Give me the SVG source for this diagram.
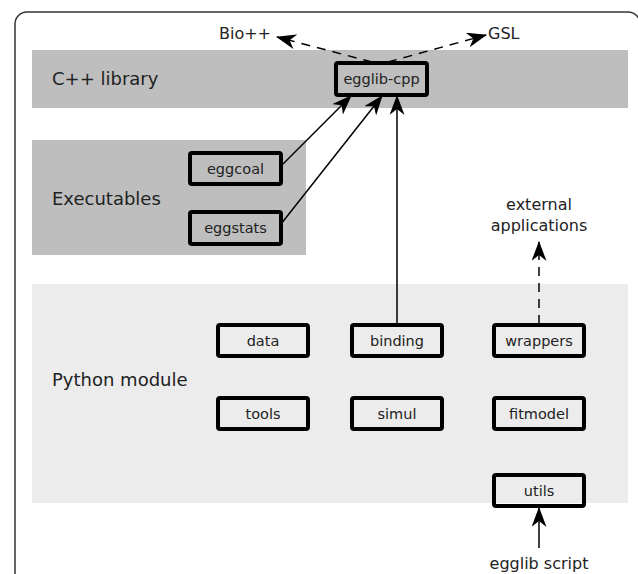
<svg xmlns="http://www.w3.org/2000/svg" width="638" height="574" viewBox="0 0 638 574">
<defs>
<marker id="ah" viewBox="0 0 20 15" refX="19" refY="7.5" markerWidth="20" markerHeight="15" markerUnits="userSpaceOnUse" orient="auto">
<path d="M0,0 L20,7.5 L0,15 L6,7.5 z" fill="#000"/>
</marker>
<style>
.band1{fill:#bebebe}
.band2{fill:#ececec}
.lbl{font-family:"DejaVu Sans",sans-serif;font-size:18px;fill:#222}
.ext{font-family:"DejaVu Sans",sans-serif;font-size:16px;fill:#222}
.box rect{fill:none;stroke:#000;stroke-width:4}
.box text{font-family:"DejaVu Sans",sans-serif;font-size:14.5px;fill:#222;text-anchor:middle}
.c{stroke:#000;stroke-width:1.5;fill:none;marker-end:url(#ah)}
.d{stroke-dasharray:9,7}
</style>
</defs>
<rect width="638" height="574" fill="#fff"/>
<rect x="15" y="12" width="625" height="620" rx="12" fill="#fff" stroke="#333" stroke-width="1.5"/>
<rect class="band1" x="32" y="50" width="596" height="58"/>
<rect class="band1" x="32" y="140" width="274" height="115"/>
<rect class="band2" x="32" y="284" width="596" height="219"/>
<text class="lbl" x="52" y="85">C++ library</text>
<text class="lbl" x="52" y="205">Executables</text>
<text class="lbl" x="52" y="386">Python module</text>
<text class="ext" x="219" y="39">Bio++</text>
<text class="ext" x="488" y="39">GSL</text>
<text class="ext" x="539" y="210" text-anchor="middle">external</text>
<text class="ext" x="539" y="231" text-anchor="middle">applications</text>
<text class="ext" x="539" y="569" text-anchor="middle">egglib script</text>
<g id="connectors">
<line class="c d" x1="372" y1="62" x2="277" y2="37"/>
<line class="c d" x1="388" y1="62" x2="486" y2="35"/>
<line class="c" x1="281" y1="166" x2="351" y2="96"/>
<line class="c" x1="281" y1="224" x2="382" y2="96"/>
<line class="c" x1="397" y1="324" x2="397" y2="96"/>
<line class="c d" x1="539" y1="324" x2="539" y2="242"/>
<line class="c" x1="539" y1="548" x2="539" y2="508"/>
</g>
<g id="egglib-cpp" class="box"><rect x="336" y="63" width="91" height="32" rx="2"/><text x="381.5" y="84">egglib-cpp</text></g>
<g id="eggcoal" class="box"><rect x="190" y="153" width="91" height="31" rx="2"/><text x="235.5" y="173.5">eggcoal</text></g>
<g id="eggstats" class="box"><rect x="190" y="212" width="91" height="32" rx="2"/><text x="235.5" y="233">eggstats</text></g>
<g id="data" class="box"><rect x="218" y="325" width="90" height="31" rx="2"/><text x="263" y="345.5">data</text></g>
<g id="binding" class="box"><rect x="352" y="325" width="90" height="31" rx="2"/><text x="397" y="345.5">binding</text></g>
<g id="wrappers" class="box"><rect x="494" y="325" width="90" height="31" rx="2"/><text x="539" y="345.5">wrappers</text></g>
<g id="tools" class="box"><rect x="218" y="398" width="90" height="31" rx="2"/><text x="263" y="418.5">tools</text></g>
<g id="simul" class="box"><rect x="352" y="398" width="90" height="31" rx="2"/><text x="397" y="418.5">simul</text></g>
<g id="fitmodel" class="box"><rect x="494" y="398" width="90" height="31" rx="2"/><text x="539" y="418.5">fitmodel</text></g>
<g id="utils" class="box"><rect x="494" y="475" width="90" height="31" rx="2"/><text x="539" y="495.5">utils</text></g>
</svg>
